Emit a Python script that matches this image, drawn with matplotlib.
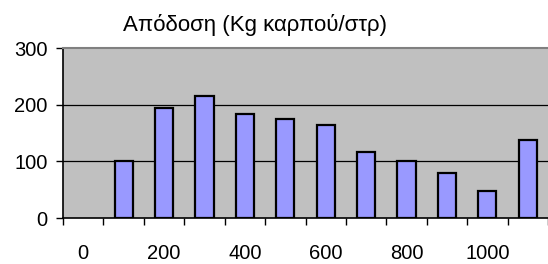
import numpy as np
import matplotlib
matplotlib.use("Agg")
import matplotlib.pyplot as plt

categories = [0, 100, 200, 300, 400, 500, 600, 700, 800, 900, 1000, 1100]
values = [np.nan, 100, 195, 215, 184, 174, 164, 116, 100, 79, 48, 137]
title = "Απόδοση (Kg καρπού/στρ)"
yticks = [0, 100, 200, 300]

plt.rcParams['font.family'] = ['Liberation Sans', 'DejaVu Sans']

fig = plt.figure(figsize=(5.48, 2.64), dpi=100)
ax = fig.add_axes([63/548, 1-218/264, 1-63/548, 170/264])
ax.set_facecolor('#C0C0C0')

x = np.arange(len(categories))
ax.bar(x, values, width=0.45, color='#9999FF', edgecolor='black', linewidth=1.6, zorder=3)

ax.set_xlim(-0.5, len(categories) - 0.5)
ax.set_ylim(0, 300)
ax.set_yticks(yticks)
ax.set_yticklabels([str(v) for v in yticks], fontsize=14.5)
for v in yticks[1:-1]:
    ax.axhline(v, color='black', linewidth=0.9, zorder=1)

# category boundary ticks (no labels)
ax.set_xticks(np.arange(-0.5, len(categories) + 0.5, 1.0))
ax.set_xticklabels([])
ax.tick_params(axis='x', which='major', length=5, width=1, direction='out', color='black')
# labels at category centres, every other category
lab_idx = x[::2][:6]
ax.set_xticks(lab_idx, minor=True)
ax.set_xticklabels([str(categories[i]) for i in lab_idx], minor=True, fontsize=14.5)
ax.tick_params(axis='x', which='minor', length=0, pad=19)
ax.tick_params(axis='y', length=5, width=1, direction='out', pad=6)

for s in ['left', 'bottom']:
    ax.spines[s].set_color('black')
    ax.spines[s].set_linewidth(1.2)
ax.spines['top'].set_color('#808080')
ax.spines['top'].set_linewidth(1.5)
ax.spines['right'].set_visible(False)

fig.text(255/548, 1-25/264, title, ha='center', va='center', fontsize=16)

fig.savefig('out.png', dpi=100)
